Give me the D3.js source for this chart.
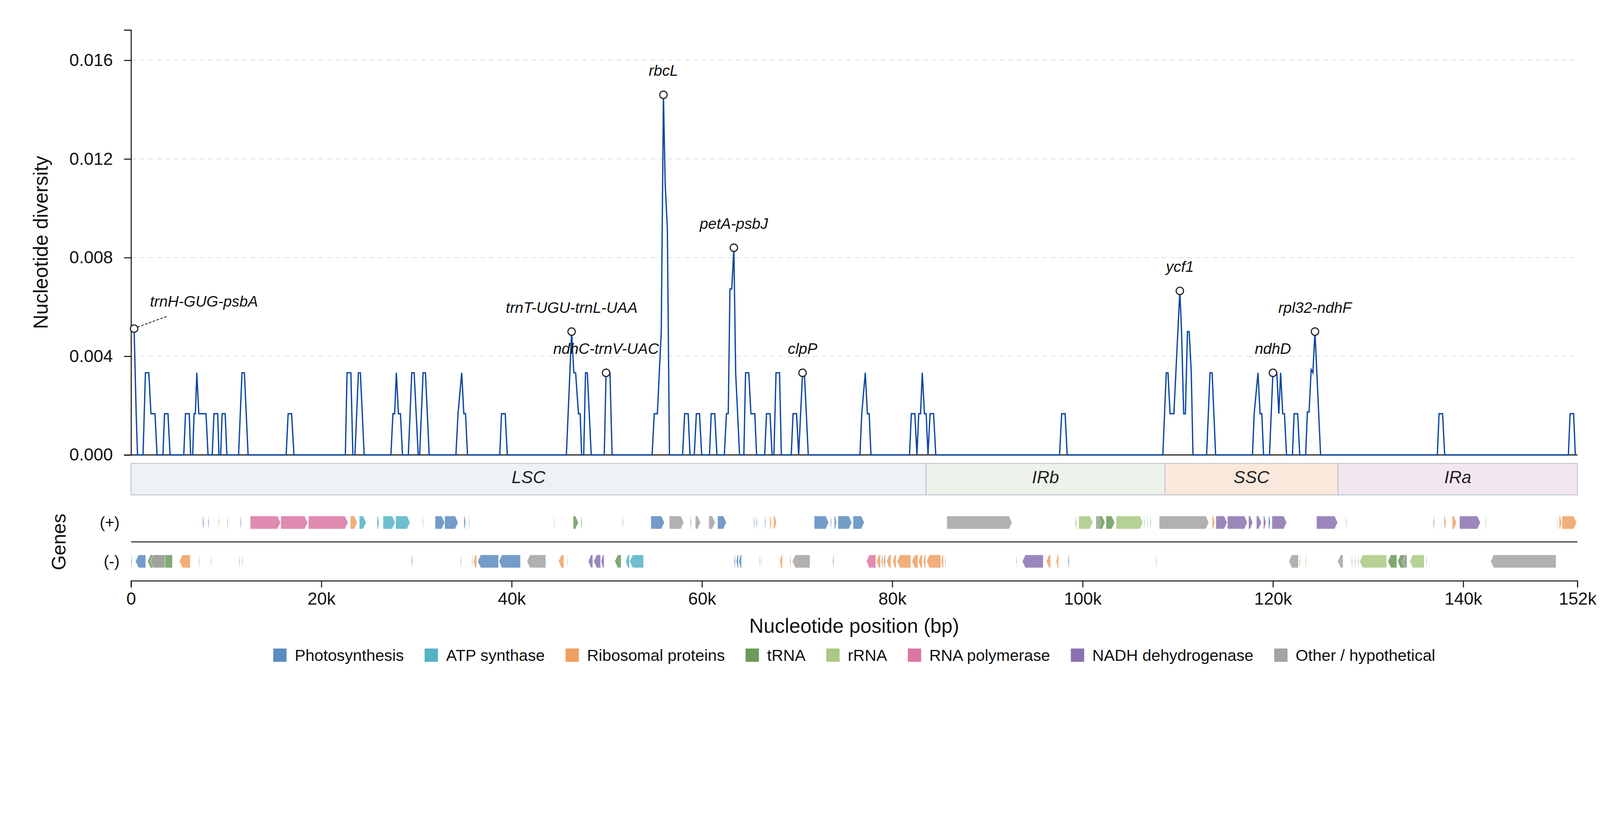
<!DOCTYPE html>
<html>
<head>
<meta charset="utf-8">
<script src="https://cdn.jsdelivr.net/npm/d3@7"></script>
<style>
    html, body { margin: 0; padding: 0; background: #fff; overflow: hidden; }
    svg { display: block; font-family: "Liberation Sans", Arial, sans-serif; }
</style>
</head>
<body>
<div id="root"></div>
<script>
// sliding-window nucleotide diversity, positions in kb (only the non-zero stretches + their zero ends)
var winPos = [
    0.32, 0.54, 0.68,
    1.26, 1.51, 1.87, 2.09, 2.52, 2.73,
    3.35, 3.52, 3.88, 4.10,
    5.54, 5.72, 6.12, 6.26, 6.48, 6.62, 6.76, 6.91, 7.12, 7.88, 8.09,
    8.53, 8.71, 9.10, 9.24, 9.42, 9.57, 9.89, 10.07,
    11.30, 11.66, 11.91, 12.30,
    16.30, 16.51, 16.87, 17.12,
    22.52, 22.70, 23.10, 23.31, 23.53, 23.89, 24.10, 24.50,
    27.31, 27.52, 27.70, 27.88, 28.10, 28.31, 28.53,
    29.14, 29.50, 29.75, 30.18, 30.33, 30.69, 30.94, 31.33,
    34.14, 34.36, 34.75, 34.97, 35.15, 35.36,
    38.75, 38.93, 39.32, 39.54,
    45.75, 46.30, 46.53, 46.72, 47.02, 47.20, 47.35,
    47.57, 47.76, 47.95, 48.36,
    49.73, 49.92, 50.33, 50.55,
    54.76, 54.98, 55.31, 55.72, 55.95, 56.13, 56.36, 56.58,
    57.96, 58.18, 58.55, 58.74,
    59.19, 59.41, 59.74, 59.97,
    60.79, 60.97, 61.34, 61.57,
    62.35, 62.57, 62.76, 62.94, 63.13, 63.35, 63.54, 63.95,
    64.40, 64.58, 64.92, 65.14, 65.55, 65.74,
    66.59, 66.78, 67.15, 67.37,
    67.56, 67.78, 68.15, 68.34,
    69.38, 69.57, 69.94, 70.16, 70.57, 70.76, 71.17,
    76.60, 76.79, 77.16, 77.38, 77.57, 77.76,
    81.81, 82.00, 82.37, 82.59, 82.78, 82.97, 83.15, 83.38, 83.56, 83.75, 83.97, 84.34, 84.57,
    97.58, 97.80, 98.16, 98.38,
    108.43, 108.79, 108.97, 109.19, 109.59, 110.22, 110.40, 110.62, 110.80, 111.02, 111.20, 111.42, 111.60,
    113.03, 113.39, 113.61, 113.98,
    117.85, 118.03, 118.43, 118.65, 118.83, 119.02,
    119.64, 120.00, 120.41, 120.62, 120.81, 121.03, 121.21, 121.43,
    122.05, 122.23, 122.60, 122.82,
    123.44, 123.62, 123.80, 124.02, 124.20, 124.42, 125.01,
    137.28, 137.46, 137.83, 138.05,
    151.05, 151.23, 151.60, 151.78
];
var winPi = [
    0.00512, 0.00167, 0,
    0, 0.00333, 0.00333, 0.00167, 0.00167, 0,
    0, 0.00167, 0.00167, 0,
    0, 0.00167, 0.00167, 0, 0, 0.00167, 0.00167, 0.00333, 0.00167, 0.00167, 0,
    0, 0.00167, 0.00167, 0, 0, 0.00167, 0.00167, 0,
    0, 0.00333, 0.00333, 0,
    0, 0.00167, 0.00167, 0,
    0, 0.00333, 0.00333, 0, 0, 0.00333, 0.00333, 0,
    0, 0.00167, 0.00167, 0.00333, 0.00167, 0.00167, 0,
    0, 0.00333, 0.00333, 0, 0, 0.00333, 0.00333, 0,
    0, 0.00167, 0.00333, 0.00167, 0.00167, 0,
    0, 0.00167, 0.00167, 0,
    0, 0.00500, 0.00333, 0.00333, 0.00167, 0.00167, 0,
    0, 0.00333, 0.00333, 0,
    0, 0.00333, 0.00333, 0,
    0, 0.00167, 0.00167, 0.00500, 0.01460, 0.01100, 0.00920, 0,
    0, 0.00167, 0.00167, 0,
    0, 0.00167, 0.00167, 0,
    0, 0.00167, 0.00167, 0,
    0, 0.00167, 0.00167, 0.00673, 0.00673, 0.00840, 0.00333, 0,
    0, 0.00333, 0.00333, 0.00167, 0.00167, 0,
    0, 0.00167, 0.00167, 0,
    0, 0.00333, 0.00333, 0,
    0, 0.00167, 0.00167, 0, 0.00333, 0.00333, 0,
    0, 0.00167, 0.00333, 0.00167, 0.00167, 0,
    0, 0.00167, 0.00167, 0, 0.00167, 0.00167, 0.00333, 0.00167, 0.00167, 0, 0.00167, 0.00167, 0,
    0, 0.00167, 0.00167, 0,
    0, 0.00333, 0.00333, 0.00167, 0.00167, 0.00665, 0.00500, 0.00167, 0.00167, 0.00500, 0.00500, 0.00333, 0,
    0, 0.00333, 0.00333, 0,
    0, 0.00167, 0.00333, 0.00167, 0.00167, 0,
    0, 0.00333, 0.00333, 0.00167, 0.00333, 0.00167, 0.00167, 0,
    0, 0.00167, 0.00167, 0,
    0, 0.00174, 0.00174, 0.00346, 0.00333, 0.00500, 0,
    0, 0.00167, 0.00167, 0,
    0, 0.00167, 0.00167, 0
];

// labelled hotspots (kb)
var annotLabels = ["trnH-GUG-psbA", "trnT-UGU-trnL-UAA", "ndhC-trnV-UAC", "rbcL", "petA-psbJ",
    "clpP", "ycf1", "ndhD", "rpl32-ndhF"];
var annotPos = [0.32, 46.30, 49.92, 55.95, 63.35, 70.57, 110.22, 120.00, 124.42];

// genome regions (kb)
var regionNames = ["LSC", "IRb", "SSC", "IRa"];
var regionStart = [0, 83.55, 108.65, 126.85];
var regionEnd = [83.55, 108.65, 126.85, 152];

var xTicks = [0, 20, 40, 60, 80, 100, 120, 140, 152];
var yTicks = [0, 0.004, 0.008, 0.012, 0.016];

var categories = ["Photosynthesis", "ATP synthase", "Ribosomal proteins", "tRNA", "rRNA",
    "RNA polymerase", "NADH dehydrogenase", "Other / hypothetical"];

// genes: [start kb, end kb, category index]
var plusGenes = [
    [7.53, 7.66, 0], [8.10, 8.20, 0], [9.19, 9.27, 3], [10.11, 10.19, 0], [11.50, 11.60, 0],
    [12.52, 15.71, 5], [15.74, 18.56, 5], [18.64, 22.80, 5], [23.05, 23.77, 2], [23.99, 24.71, 1],
    [25.87, 26.07, 1], [26.49, 27.76, 1], [27.81, 29.32, 1], [30.66, 30.73, 3], [31.95, 32.96, 0],
    [32.96, 34.37, 0], [34.99, 35.17, 0], [35.51, 35.59, 3],
    [44.45, 44.52, 3], [46.46, 47.01, 3], [47.28, 47.38, 3], [51.65, 51.73, 3], [54.63, 56.05, 0],
    [56.57, 58.09, 7], [58.78, 58.88, 0], [59.30, 59.85, 7], [60.72, 61.39, 7], [61.64, 62.56, 0],
    [65.44, 65.54, 0], [65.71, 65.81, 0], [66.61, 66.71, 0], [67.13, 67.30, 2], [67.53, 67.83, 2],
    [71.80, 73.32, 0], [73.52, 73.62, 0], [73.91, 74.14, 0], [74.29, 75.75, 0], [75.88, 77.05, 0],
    [85.73, 92.58, 7], [99.26, 99.36, 3], [99.60, 101.07, 4], [101.41, 102.36, 3], [101.55, 101.90, 7],
    [102.46, 103.37, 3], [103.52, 106.33, 4], [106.45, 106.53, 3], [106.80, 106.87, 3], [107.12, 107.20, 3],
    [108.06, 113.27, 7], [113.62, 113.88, 2], [114.01, 115.19, 6], [115.22, 117.31, 6], [117.44, 117.88, 6],
    [118.27, 118.80, 6], [119.01, 119.27, 6], [119.53, 119.74, 0], [119.90, 121.44, 6], [124.58, 126.80, 6],
    [127.66, 127.74, 3], [136.86, 136.99, 7], [137.99, 138.20, 2], [138.85, 139.29, 2], [139.61, 141.80, 6],
    [142.35, 142.43, 3], [149.86, 149.93, 3], [150.09, 150.33, 2], [150.38, 151.92, 2]
];
var minusGenes = [
    [0, 0.10, 3], [0.47, 1.54, 0], [1.73, 4.34, 3], [2.03, 3.57, 7], [5.08, 6.22, 2], [7.11, 7.19, 3],
    [8.38, 8.45, 3], [11.35, 11.43, 3], [11.65, 11.72, 3], [29.47, 29.57, 3], [34.62, 34.70, 3],
    [35.81, 35.89, 3], [35.99, 36.31, 2], [36.43, 38.61, 0], [38.66, 40.92, 0], [41.61, 43.58, 7],
    [44.92, 45.49, 2], [45.84, 45.91, 3], [48.05, 48.52, 6], [48.62, 49.34, 6], [49.39, 49.71, 6],
    [50.83, 51.50, 3], [51.98, 52.37, 1], [52.40, 53.86, 1], [63.38, 63.50, 0], [63.60, 63.83, 0],
    [63.88, 64.15, 0], [66.01, 66.08, 3], [66.19, 66.26, 3], [68.17, 68.45, 2], [69.22, 69.34, 2],
    [69.49, 71.35, 7], [73.74, 73.84, 0],
    [77.27, 78.26, 5], [78.34, 78.76, 2], [78.83, 79.01, 2], [79.08, 79.28, 7], [79.40, 79.85, 2],
    [80.05, 80.40, 2], [80.50, 81.94, 2], [82.06, 82.70, 2], [82.75, 83.15, 2], [83.25, 83.50, 2],
    [83.60, 85.09, 2], [85.16, 85.38, 2], [85.53, 85.61, 3], [93.03, 93.10, 3], [93.67, 95.86, 6],
    [96.20, 96.63, 2], [97.22, 97.47, 2], [98.44, 98.59, 7], [107.69, 107.77, 3],
    [121.67, 122.67, 7], [122.77, 122.85, 3], [123.40, 123.50, 2], [126.80, 127.37, 7], [128.26, 128.34, 3],
    [128.60, 128.68, 3], [128.94, 129.02, 3], [129.12, 131.95, 4], [132.08, 133.02, 3], [133.10, 134.09, 3],
    [133.62, 134.09, 7], [134.38, 135.90, 4], [136.10, 136.18, 3], [142.88, 149.75, 7]
];

var catColors = ["#5b8bc0", "#55b3c5", "#f0a060", "#6b9a5c", "#a9c983", "#da77a2", "#8a72b0", "#a3a3a3"];
var regionColors = ["#eef2f6", "#edf2ea", "#fae9dc", "#f2e7f1"];

// layout, in units of the 4322 x 2102 picture
var W = 4322, H = 2102;
var left = 354, right = 4261, plotTop = 81, plotBottom = 1229;
var bandTop = 1252, bandH = 85;
var plusTop = 1394, minusTop = 1499, geneH = 35, sepY = 1464, axisY = 1569;

var svg = d3.select("#root")
    .append("svg")
    .attr("viewBox", "0 0 " + W + " " + H)
    .attr("preserveAspectRatio", "xMidYMin meet")
    .attr("width", "100vw")
    .attr("height", "100vh");

svg.append("rect").attr("width", W).attr("height", H).attr("fill", "#fff");

var x = d3.scaleLinear().domain([0, d3.max(xTicks)]).range([left, right]);
var y = d3.scaleLinear().domain([0, d3.max(winPi) * 1.18]).range([plotBottom, plotTop]);

// grid
svg.append("g")
    .selectAll("line")
    .data(yTicks.filter((d) => d > 0))
    .enter()
    .append("line")
    .attr("x1", left)
    .attr("x2", right)
    .attr("y1", (d) => y(d))
    .attr("y2", (d) => y(d))
    .attr("stroke", "#d6dde4")
    .attr("stroke-width", 2)
    .attr("stroke-dasharray", "14,9");

// y axis
var yAxis = svg.append("g")
    .attr("transform", "translate(" + left + ",0)")
    .call(d3.axisLeft(y).tickValues(yTicks).tickFormat(d3.format(".3f")).tickSize(19).tickPadding(30));
yAxis.selectAll("path, line").attr("stroke", "#222").attr("stroke-width", 3);
yAxis.selectAll("text").style("font-size", "47px").attr("fill", "#111");

// baseline
svg.append("line")
    .attr("x1", left).attr("x2", right)
    .attr("y1", y(0)).attr("y2", y(0))
    .attr("stroke", "#222").attr("stroke-width", 3);

// diversity line
var pts = winPos.map((p, i) => [p, winPi[i]]);
svg.append("path")
    .datum(pts)
    .attr("fill", "none")
    .attr("stroke", "#0d47a1")
    .attr("stroke-width", 3.5)
    .attr("d", d3.line().x((d) => x(d[0])).y((d) => y(d[1])));

// hotspots
annotPos.forEach((p, i) => {
    var k = d3.minIndex(winPos, (w) => Math.abs(w - p));
    var cx = x(p), cy = y(winPi[k]);
    if (i === 0) {
        svg.append("line")
            .attr("x1", cx + 9).attr("y1", cy - 4)
            .attr("x2", cx + 91).attr("y2", cy - 34)
            .attr("stroke", "#333").attr("stroke-width", 2.5)
            .attr("stroke-dasharray", "7,4");
        svg.append("text")
            .attr("x", cx + 43).attr("y", cy - 59)
            .style("font-size", "41px").style("font-style", "italic")
            .attr("fill", "#111")
            .text(annotLabels[i]);
    } else {
        svg.append("text")
            .attr("x", cx).attr("y", cy - 51)
            .attr("text-anchor", "middle")
            .style("font-size", "41px").style("font-style", "italic")
            .attr("fill", "#111")
            .text(annotLabels[i]);
    }
    svg.append("circle")
        .attr("cx", cx).attr("cy", cy).attr("r", 10)
        .attr("fill", "#fff").attr("stroke", "#222").attr("stroke-width", 3);
});

// region band
regionNames.forEach((r, i) => {
    svg.append("rect")
        .attr("x", x(regionStart[i]))
        .attr("y", bandTop)
        .attr("width", x(regionEnd[i]) - x(regionStart[i]))
        .attr("height", bandH)
        .attr("fill", regionColors[i])
        .attr("stroke", "#bcc6cf")
        .attr("stroke-width", 2.5);
    svg.append("text")
        .attr("x", (x(regionStart[i]) + x(regionEnd[i])) / 2)
        .attr("y", bandTop + 53)
        .attr("text-anchor", "middle")
        .style("font-size", "47px").style("font-style", "italic")
        .attr("fill", "#222")
        .text(r);
});

// genes
function arrow(g, strand, top) {
    var x0 = x(g[0]);
    var w = Math.max(x(g[1]) - x0, 1.5);
    var x1 = x0 + w;
    var tip = Math.min(8, w * 0.6);
    var m = top + geneH / 2, b = top + geneH;
    if (strand > 0) {
        return [[x0, top], [x1 - tip, top], [x1, m], [x1 - tip, b], [x0, b]];
    }
    return [[x0, m], [x0 + tip, top], [x1, top], [x1, b], [x0 + tip, b]];
}

svg.append("g")
    .selectAll("polygon")
    .data(plusGenes)
    .enter()
    .append("polygon")
    .attr("points", (d) => arrow(d, 1, plusTop).join(" "))
    .attr("fill", (d) => catColors[d[2]])
    .attr("fill-opacity", 0.85)
    .attr("stroke", "#fff").attr("stroke-width", 1.2).attr("stroke-opacity", 0.7);

svg.append("g")
    .selectAll("polygon")
    .data(minusGenes)
    .enter()
    .append("polygon")
    .attr("points", (d) => arrow(d, -1, minusTop).join(" "))
    .attr("fill", (d) => catColors[d[2]])
    .attr("fill-opacity", 0.85)
    .attr("stroke", "#fff").attr("stroke-width", 1.2).attr("stroke-opacity", 0.7);

svg.append("line")
    .attr("x1", left).attr("x2", right)
    .attr("y1", sepY).attr("y2", sepY)
    .attr("stroke", "#333").attr("stroke-width", 3);

svg.append("text")
    .attr("x", 323).attr("y", plusTop + geneH / 2 + 15)
    .attr("text-anchor", "end").style("font-size", "43px").attr("fill", "#111")
    .text("(+)");
svg.append("text")
    .attr("x", 323).attr("y", minusTop + geneH / 2 + 15)
    .attr("text-anchor", "end").style("font-size", "43px").attr("fill", "#111")
    .text("(-)");
svg.append("text")
    .attr("transform", "translate(177," + sepY + ") rotate(-90)")
    .attr("text-anchor", "middle").style("font-size", "52px").attr("fill", "#111")
    .text("Genes");

// x axis
var xAxis = svg.append("g")
    .attr("transform", "translate(0," + axisY + ")")
    .call(d3.axisBottom(x).tickValues(xTicks)
        .tickFormat((d) => (d === 0 ? "0" : d + "k"))
        .tickSize(18).tickPadding(13));
xAxis.selectAll("path, line").attr("stroke", "#222").attr("stroke-width", 3);
xAxis.selectAll("text").style("font-size", "47px").attr("fill", "#111");

// axis titles
svg.append("text")
    .attr("x", (left + right) / 2).attr("y", 1709)
    .attr("text-anchor", "middle").style("font-size", "54px").attr("fill", "#111")
    .text("Nucleotide position (bp)");
svg.append("text")
    .attr("transform", "translate(129," + (plotTop + plotBottom) / 2 + ") rotate(-90)")
    .attr("text-anchor", "middle").style("font-size", "54px").attr("fill", "#111")
    .text("Nucleotide diversity");

// legend
var legend = svg.append("g");
var lx = 0;
categories.forEach((c, i) => {
    var item = legend.append("g").attr("transform", "translate(" + lx + ",0)");
    item.append("rect")
        .attr("y", -18).attr("width", 36).attr("height", 36)
        .attr("fill", catColors[i]);
    var t = item.append("text")
        .attr("x", 58).attr("y", 15)
        .style("font-size", "43.5px").attr("fill", "#111")
        .text(c);
    lx += 58 + t.node().getComputedTextLength() + 56;
});
legend.attr("transform", "translate(" + ((left + right) / 2 - (lx - 56) / 2) + ",1770)");
</script>
</body>
</html>
